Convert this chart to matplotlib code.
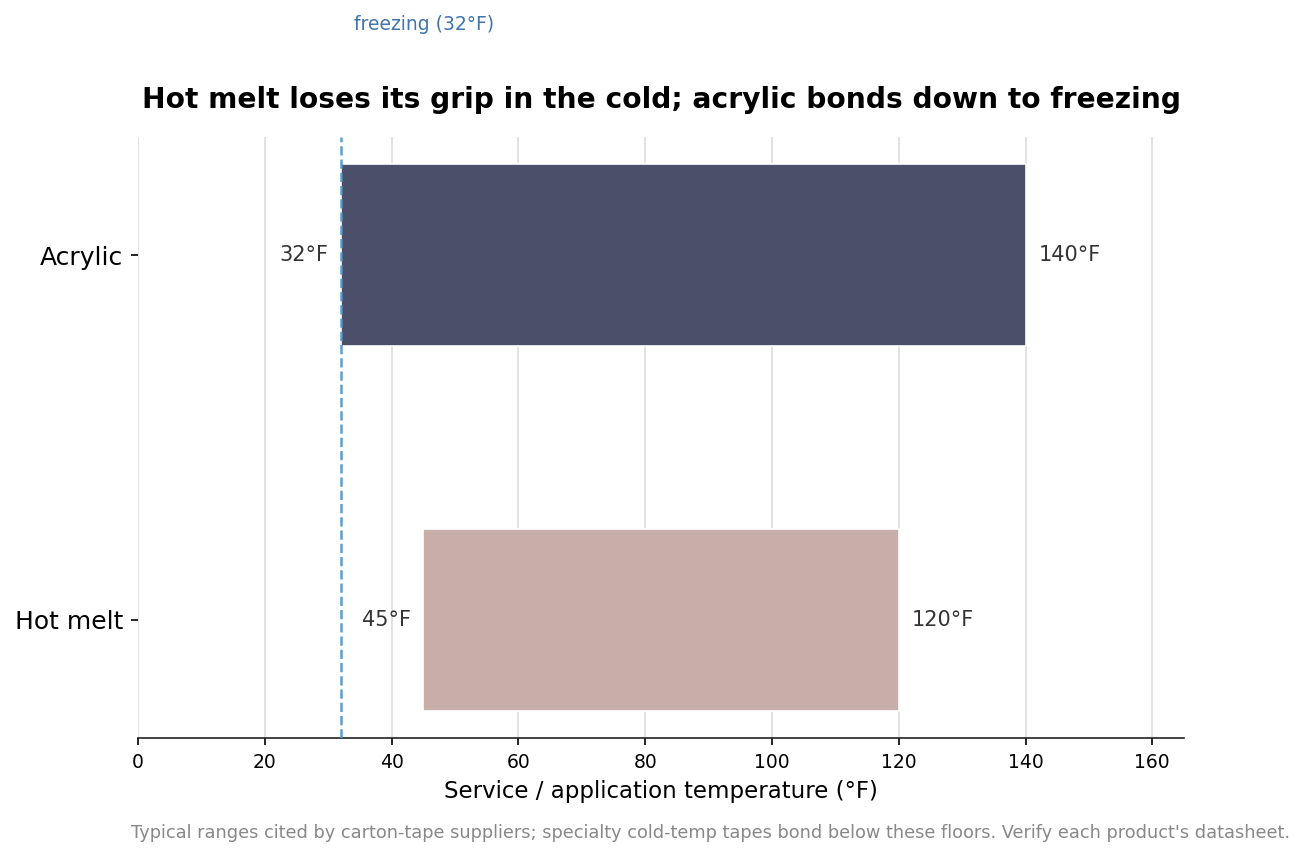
import matplotlib
matplotlib.use("Agg")
import matplotlib.pyplot as plt
import matplotlib.transforms as mtransforms

tapes = ["Acrylic", "Hot melt"]
low_f = [32, 45]
high_f = [140, 120]
colors = ["#4b4f6a", "#c8aea8"]
freezing = 32
xticks = [0, 20, 40, 60, 80, 100, 120, 140, 160]

DPI = 150
fig = plt.figure(figsize=(1305/DPI, 858/DPI), dpi=DPI)
ax = fig.add_axes([138/1305, 1-738/858, (1184-138)/1305, (738-137)/858])

ypos = list(range(len(tapes)))
widths = [h - l for l, h in zip(low_f, high_f)]
ax.barh(ypos, widths, left=low_f, height=0.5, color=colors, edgecolor="white", linewidth=0.8, zorder=3)

for y, l, h in zip(ypos, low_f, high_f):
    ax.text(l - 2, y, f"{l}°F", ha="right", va="center", fontsize=10, color="#333333")
    ax.text(h + 2, y, f"{h}°F", ha="left", va="center", fontsize=10, color="#333333")

ax.axvline(freezing, color="#4a94cc", linestyle="--", linewidth=1.2, alpha=0.9, zorder=4)
trans = mtransforms.blended_transform_factory(ax.transData, ax.transAxes)
ax.text(freezing + 2, 1.188, "freezing (32°F)", transform=trans, ha="left", va="center",
        fontsize=9, color="#3f74ad")

ax.set_xlim(0, 165)
ax.set_yticks(ypos)
ax.set_yticklabels(tapes, fontsize=12)
ax.invert_yaxis()
ax.set_xticks(xticks)
ax.tick_params(axis="x", labelsize=9)
ax.set_xlabel("Service / application temperature (°F)", fontsize=11)
ax.grid(axis="x", color="#dddddd", linewidth=0.8, zorder=0)
ax.set_axisbelow(True)
for s in ["top", "right", "left"]:
    ax.spines[s].set_visible(False)
ax.spines["bottom"].set_color("#222222")
ax.set_title("Hot melt loses its grip in the cold; acrylic bonds down to freezing",
             fontsize=13.5, fontweight="bold", pad=14)

fig.text(1290/1305, 1-833/858, "Typical ranges cited by carton-tape suppliers; specialty cold-temp tapes bond below these floors. Verify each product's datasheet.",
         ha="right", va="center", fontsize=8.5, color="#888888")

fig.savefig("out.png", dpi=DPI)
